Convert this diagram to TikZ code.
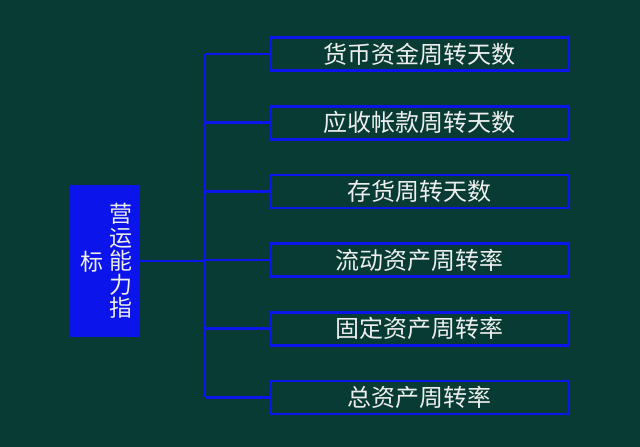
\documentclass[tikz,border=0pt]{standalone}
\usepackage{fontspec}
\newfontfamily\cjk{Noto Sans CJK SC}
\definecolor{bg}{RGB}{7,59,51}
\definecolor{ln}{RGB}{10,20,235}
\definecolor{tx}{RGB}{238,238,238}
\begin{document}
\begin{tikzpicture}[x=1pt,y=-1pt,
  item/.style={draw=ln,line width=2.6pt,fill=bg,minimum width=297pt,minimum height=33pt,inner sep=0pt,text=tx,font=\cjk\fontsize{24}{24}\selectfont},
  conn/.style={draw=ln,line width=2.6pt},
  mainbox/.style={fill=ln,minimum width=71pt,minimum height=152pt,inner sep=0pt}]
\fill[bg] (0,0) rectangle (640,447);
\useasboundingbox (0,0) rectangle (640,447);
\node[mainbox] (m) at (104.5,261) {};
\node[text=tx,font=\cjk\fontsize{23}{23.6}\selectfont,align=center,inner sep=0pt] (t1) at (121,261) {营\\运\\能\\力\\指};
\node[text=tx,font=\cjk\fontsize{23}{23}\selectfont,inner sep=0pt] (t2) at (92,262) {标};
\node[item] (b1) at (419.5,54) {货币资金周转天数};
\node[item] (b2) at (419.5,122.7) {应收帐款周转天数};
\node[item] (b3) at (419.5,191.4) {存货周转天数};
\node[item] (b4) at (419.5,260) {流动资产周转率};
\node[item] (b5) at (419.5,328.7) {固定资产周转率};
\node[item] (b6) at (419.5,397.4) {总资产周转率};
\coordinate (top) at (205,54);
\coordinate (bot) at (205,397.4);
\coordinate (mid) at (205,261);
\draw[conn] (top) -- (bot);
\draw[conn] (m.east) -- (mid);
\foreach \b in {b1,b2,b3,b4,b5,b6}{
  \draw[conn] (\b.west) -- (top|-\b.west);
}
\end{tikzpicture}
\end{document}
